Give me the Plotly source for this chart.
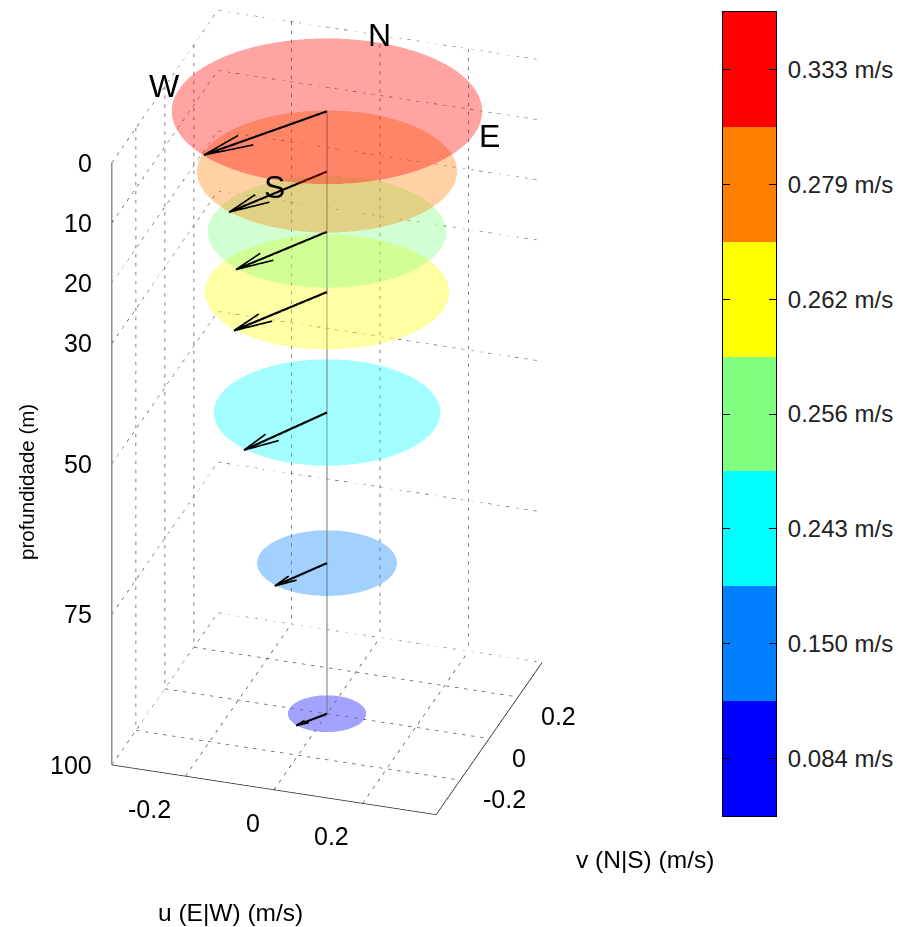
import numpy as np
import plotly.graph_objects as go

depths = [0, 10, 20, 30, 50, 75, 100]
speeds = [0.333, 0.279, 0.256, 0.262, 0.243, 0.150, 0.084]
u_vals = [-0.189, -0.142, -0.132, -0.135, -0.116, -0.074, -0.046]
v_vals = [-0.272, -0.242, -0.225, -0.230, -0.219, -0.134, -0.072]
disc_colors = ["#ff0000", "#ff8000", "#80ff80", "#ffff00", "#00ffff", "#0080ff", "#0000ff"]
bar_speeds = [0.084, 0.150, 0.243, 0.256, 0.262, 0.279, 0.333]
bar_colors = ["#0000ff", "#0080ff", "#00ffff", "#80ff80", "#ffff00", "#ff8000", "#ff0000"]
hv_ticks = [-0.2, 0, 0.2]
z_ticks = [0, 10, 20, 30, 50, 75, 100]
L = 0.366
ZMAX = 100
FONT = "Liberation Sans"

fig = go.Figure()

def line3d(x, y, z, color="#000000", width=1, dash="solid"):
    fig.add_trace(go.Scatter3d(x=x, y=y, z=z, mode="lines", hoverinfo="skip", showlegend=False,
                               line=dict(color=color, width=width, dash=dash), scene="scene"))

# dotted grid: one trace of short strokes, broken by gaps
gx, gy, gz = [], [], []
def grid_line(p0, p1, periods, on=0.38):
    p0, p1 = np.array(p0, float), np.array(p1, float)
    for m in range(periods):
        a = p0 + (p1 - p0) * (m / periods)
        b = p0 + (p1 - p0) * ((m + on) / periods)
        gx.extend([a[0], b[0], None])
        gy.extend([a[1], b[1], None])
        gz.extend([a[2], b[2], None])

for t in hv_ticks:
    grid_line((t, L, 0), (t, L, ZMAX), 67)
    grid_line((-L, t, 0), (-L, t, ZMAX), 67)
    grid_line((t, -L, ZMAX), (t, L, ZMAX), 21)
    grid_line((-L, t, ZMAX), (L, t, ZMAX), 36)
for d in z_ticks:
    grid_line((-L, L, d), (L, L, d), 36)
    grid_line((-L, -L, d), (-L, L, d), 21)
line3d(gx, gy, gz, color="#555555", width=1.5)

# axes
A = dict(color="#222222", width=1.5)
line3d([-L, -L], [-L, -L], [0, ZMAX], **A)
line3d([-L, L], [-L, -L], [ZMAX, ZMAX], **A)
line3d([L, L], [-L, L], [ZMAX, ZMAX], **A)
for d in z_ticks:
    line3d([-L - 0.035, -L], [-L, -L], [d, d], **A)
for t in hv_ticks:
    line3d([t, t], [-L - 0.055, -L], [ZMAX, ZMAX], **A)
    line3d([L, L + 0.035], [t, t], [ZMAX, ZMAX], **A)

# discs
theta = np.linspace(0, 2 * np.pi, 97)[:-1]
n = len(theta)
for d, s, c in zip(depths[::-1], speeds[::-1], disc_colors[::-1]):
    x = np.r_[0, s * np.cos(theta)]
    y = np.r_[0, s * np.sin(theta)]
    z = np.full(n + 1, d)
    fig.add_trace(go.Mesh3d(x=x, y=y, z=z, i=[0] * n, j=list(range(1, n + 1)),
                            k=[(m % n) + 1 for m in range(1, n + 1)], color=c, opacity=0.36,
                            flatshading=True, hoverinfo="skip", showscale=False,
                            lighting=dict(ambient=1, diffuse=0, specular=0, fresnel=0, roughness=1),
                            scene="scene"))

# central line
line3d([0, 0], [0, 0], [0, ZMAX], color="#777777", width=2)

# arrows
HEAD = 0.35
ANG = np.deg2rad(13.5)
for d, uu, vv in zip(depths, u_vals, v_vals):
    line3d([0, uu], [0, vv], [d, d], width=4.5)
    for sgn in (-1, 1):
        cs, sn = np.cos(sgn * ANG), np.sin(sgn * ANG)
        bx = -HEAD * (uu * cs - vv * sn)
        by = -HEAD * (uu * sn + vv * cs)
        line3d([uu, uu + bx], [vv, vv + by], [d, d], width=3.5)

# colour bar
fig.add_trace(go.Heatmap(z=[[i] for i in range(7)], y=list(range(7)), x=[0],
                         colorscale=[[i / 6, c] for i, c in enumerate(bar_colors)],
                         showscale=False, hoverinfo="skip", xaxis="x", yaxis="y", zmin=0, zmax=6))

TICK = dict(size=25, family=FONT, color="#000000")
ann3d = []
for d in z_ticks:
    ann3d.append(dict(x=-L, y=-L, z=d, text=str(d), showarrow=False, xanchor="right", yanchor="middle",
                      xshift=-18, font=TICK))
for t in hv_ticks:
    lab = "0" if t == 0 else f"{t:g}"
    ann3d.append(dict(x=t, y=-L, z=ZMAX, text=lab, showarrow=False, xanchor="right", yanchor="middle",
                      xshift=-12, yshift=-33, font=TICK))
    ann3d.append(dict(x=L, y=t, z=ZMAX, text=lab, showarrow=False, xanchor="left", yanchor="middle",
                      xshift=21, yshift=-19, font=TICK))
for lab, x, y in [("N", 0, L), ("S", 0, -L), ("E", L, 0), ("W", -L, 0)]:
    ann3d.append(dict(x=x, y=y, z=0, text=lab, showarrow=False, xanchor="center", yanchor="middle",
                      font=dict(size=32, family=FONT, color="#000000")))

az, el = np.deg2rad(18.1), np.deg2rad(28)
EYE = 2.0
eye = dict(x=EYE * np.sin(az) * np.cos(el), y=-EYE * np.cos(az) * np.cos(el), z=EYE * np.sin(el))
hidden = dict(visible=False, showgrid=False, showbackground=False, showticklabels=False,
              showspikes=False, zeroline=False, title="")

W, H = 898, 927
TITLE = dict(family=FONT, color="#000000")
fig.update_layout(
    width=W, height=H, margin=dict(l=0, r=0, t=0, b=0), paper_bgcolor="white", showlegend=False,
    scene=dict(
        domain=dict(x=[0, 654 / W], y=[1 - 825 / H, 1]),
        xaxis=dict(range=[-L, L], **hidden),
        yaxis=dict(range=[-L, L], **hidden),
        zaxis=dict(range=[ZMAX, 0], **hidden),
        aspectmode="manual", aspectratio=dict(x=0.827, y=0.827, z=1.654),
        camera=dict(eye=eye, up=dict(x=0, y=0, z=1), center=dict(x=0, y=0, z=0),
                    projection=dict(type="orthographic")),
        annotations=ann3d,
    ),
    xaxis=dict(domain=[723 / W, 776 / W], showticklabels=False, ticks="", showline=True, mirror=True,
               linecolor="#000000", linewidth=1, range=[-0.5, 0.5], fixedrange=True, showgrid=False, zeroline=False),
    yaxis=dict(domain=[1 - 816 / H, 1 - 12 / H], side="right", range=[-0.5, 6.5], tickmode="array",
               tickvals=list(range(7)), ticktext=[f"{s:.3f} m/s" for s in bar_speeds],
               ticks="inside", ticklen=7, tickcolor="#000000", showline=True, mirror="ticks", linecolor="#000000",
               tickfont=dict(size=24, family=FONT, color="#222222"), ticklabelstandoff=6,
               fixedrange=True, showgrid=False, zeroline=False, anchor="x"),
    annotations=[
        dict(text="profundidade (m)", x=26 / W, y=1 - 482 / H, xref="paper", yref="paper", showarrow=False,
             textangle=-90, xanchor="center", yanchor="middle", font=dict(size=20.5, **TITLE)),
        dict(text="u (E|W) (m/s)", x=230 / W, y=1 - 912 / H, xref="paper", yref="paper", showarrow=False,
             xanchor="center", yanchor="middle", font=dict(size=24.5, **TITLE)),
        dict(text="v (N|S) (m/s)", x=645 / W, y=1 - 859 / H, xref="paper", yref="paper", showarrow=False,
             xanchor="center", yanchor="middle", font=dict(size=24.5, **TITLE)),
    ],
)

fig.write_html("out.html", post_script="document.body.style.margin='0';", config={"displayModeBar": False})
